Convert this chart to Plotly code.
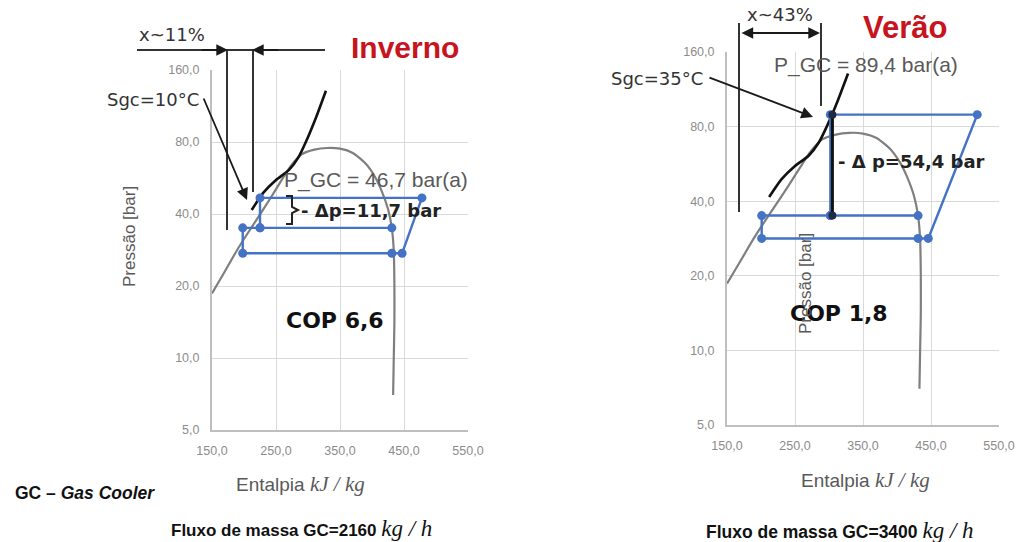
import plotly.graph_objects as go

W, H = 1026, 542

# ---------------- data ----------------
# saturation dome (same on both diagrams)
dome_h = [150, 170, 190, 205, 220, 240, 258, 272, 290, 310, 330, 350, 370, 390, 405, 415, 425, 431, 434, 435, 435, 434, 433]
dome_p = [18.6, 23, 28.5, 33, 38, 46, 55, 63, 71, 74.3, 75.5, 75, 72, 65, 57, 50, 42, 35, 28, 20, 14, 10, 7.0]

# gas-cooler outlet line (black)
gc_h = [212, 230, 250, 270, 285, 298, 313, 328]
gc_p = [41.6, 49, 55.5, 61, 69, 81.5, 102, 131]

# winter cycle (Inverno)
win_h = [431, 225, 198, 198, 431, 447, 478, 225, 225]
win_p = [35.0, 35.0, 35.0, 27.4, 27.4, 27.4, 46.7, 46.7, 35.0]

# summer cycle (Verão)
sum_h = [431, 302, 201, 201, 431, 446, 518, 302, 302]
sum_p = [35.0, 35.0, 35.0, 28.3, 28.3, 28.3, 89.4, 89.4, 35.0]
sum_dp_h = [305, 305]
sum_dp_p = [35.0, 89.4]

x_ticks = [150, 250, 350, 450, 550]
x_ticktext = ["150,0", "250,0", "350,0", "450,0", "550,0"]
y_ticks = [5, 10, 20, 40, 80, 160]
y_ticktext = ["5,0", "10,0", "20,0", "40,0", "80,0", "160,0"]

BLUE = "#4472C4"
GRAY = "#7f7f7f"
RED = "#C8141E"


def px(x):
    return x / W


def py(y):
    return 1 - y / H


fig = go.Figure()

for xa, ya, cyc_h, cyc_p in [("x", "y", win_h, win_p), ("x2", "y2", sum_h, sum_p)]:
    fig.add_trace(go.Scatter(x=dome_h, y=dome_p, mode="lines", line=dict(color=GRAY, width=2.2, shape="spline", smoothing=0.6),
                             xaxis=xa, yaxis=ya, showlegend=False, hoverinfo="skip"))
    fig.add_trace(go.Scatter(x=gc_h, y=gc_p, mode="lines", line=dict(color="#111111", width=2.6, shape="spline", smoothing=0.6),
                             xaxis=xa, yaxis=ya, showlegend=False, hoverinfo="skip"))
    fig.add_trace(go.Scatter(x=cyc_h, y=cyc_p, mode="lines+markers", line=dict(color=BLUE, width=2.4),
                             marker=dict(color=BLUE, size=9), xaxis=xa, yaxis=ya, showlegend=False))

fig.add_trace(go.Scatter(x=sum_dp_h, y=sum_dp_p, mode="lines+markers", line=dict(color="#111111", width=3),
                         marker=dict(color="#1f2a44", size=8), xaxis="x2", yaxis="y2", showlegend=False))

axis_common = dict(showgrid=True, gridcolor="#d9d9d9", gridwidth=1.2, showline=True, linecolor="#bfbfbf", linewidth=2,
                   zeroline=False, tickfont=dict(family="Liberation Sans", size=12.5, color="#8c8c8c"), ticks="",
                   ticklabelstandoff=8, automargin=False)

fig.update_layout(
    width=W, height=H, autosize=False,
    margin=dict(l=0, r=0, t=0, b=0, pad=0, autoexpand=False),
    paper_bgcolor="white", plot_bgcolor="white",
    xaxis=dict(domain=[px(212), px(468)], range=[150, 550], tickvals=x_ticks, ticktext=x_ticktext, anchor="y", **axis_common),
    yaxis=dict(domain=[py(430), py(70)], type="log", range=[0.69897, 2.20412], tickvals=y_ticks, ticktext=y_ticktext,
               anchor="x", **axis_common),
    xaxis2=dict(domain=[px(727), px(999)], range=[150, 550], tickvals=x_ticks, ticktext=x_ticktext, anchor="y2", **axis_common),
    yaxis2=dict(domain=[py(425), py(52)], type="log", range=[0.69897, 2.20412], tickvals=y_ticks, ticktext=y_ticktext,
                anchor="x2", **axis_common),
)

ann = []
shapes = []


def text(x, y, s, size, color="#333333", family="Liberation Sans", xanchor="center", angle=0):
    ann.append(dict(x=px(x), y=py(y), xref="paper", yref="paper", text=s, showarrow=False, xanchor=xanchor,
                    yanchor="middle", textangle=angle, font=dict(family=family, size=size, color=color)))


def arrow(x0, y0, x1, y1, side="end", width=1.8):
    ann.append(dict(x=px(x1), y=py(y1), xref="paper", yref="paper", ax=x0 - x1, ay=y0 - y1, text="",
                    showarrow=True, arrowhead=2, arrowsize=1.3, arrowwidth=width, arrowcolor="#1a1a1a", arrowside=side))


def line(x0, y0, x1, y1, w=2, c="#333333"):
    shapes.append(dict(type="line", xref="paper", yref="paper", x0=px(x0), y0=py(y0), x1=px(x1), y1=py(y1),
                       line=dict(color=c, width=w)))


MATH = "<span style='font-family:Liberation Serif;font-size:21px'><i>kJ / kg</i></span>"
MATH2 = "<span style='font-family:Liberation Serif;font-size:23px'><i>kg / h</i></span>"

# ---------- left (Inverno) ----------
text(405, 47, "<b>Inverno</b>", 30, RED)
text(172, 34, "x~11%", 18, "#333333", "DejaVu Sans")
line(137, 50, 325, 50, 2, "#333333")
arrow(200, 50, 228, 50)
arrow(280, 50, 252, 50)
line(227, 50, 227, 230, 2, "#333333")
line(253, 50, 253, 192, 2, "#333333")
text(153, 100, "Sgc=10°C", 18, "#333333", "DejaVu Sans")
arrow(203, 97, 247, 200)
text(376, 180, "P_GC = 46,7 bar(a)", 21, "#595959")
shapes.append(dict(type="path", xref="paper", yref="paper",
                   path="M {a},{b} L {c},{b} L {c},{d} L {e},{f} L {c},{g} L {c},{h} L {a},{h}".format(
                       a=px(286), b=py(196), c=px(292), d=py(207), e=px(298), f=py(210), g=py(213), h=py(224)),
                   line=dict(color="#222222", width=2)))
text(299, 211, "<b>- Δp=11,7 bar</b>", 18, "#222222", "DejaVu Sans", xanchor="left")
text(335, 320, "<b>COP 6,6</b>", 22, "#111111", "DejaVu Sans")
text(130, 237, "Pressão [bar]", 17, "#595959", angle=-90)
text(300, 484, "Entalpia " + MATH, 19, "#595959")
text(13, 493, "<b>GC – <i>Gas Cooler</i></b>", 17.5, "#111111", xanchor="left")
text(301, 528, "<b>Fluxo de massa GC=2160 </b>" + MATH2, 17, "#111111")

# ---------- right (Verão) ----------
text(905, 28, "<b>Verão</b>", 31, RED)
text(780, 15, "x~43%", 18, "#333333", "DejaVu Sans")
arrow(740, 33, 820, 33, side="end+start")
line(739, 23, 739, 212, 2, "#333333")
line(821, 23, 821, 106, 2, "#333333")
text(657, 78, "Sgc=35°C", 18, "#333333", "DejaVu Sans")
arrow(708, 77, 813, 117)
text(866, 65, "P_GC = 89,4 bar(a)", 21, "#595959")
text(836, 162, "<b>- Δ p=54,4 bar</b>", 18, "#222222", "DejaVu Sans", xanchor="left")
text(839, 313, "<b>COP 1,8</b>", 22, "#111111", "DejaVu Sans")
text(805, 284, "Pressão [bar]", 17, "#595959", angle=-90)
text(865, 480, "Entalpia " + MATH, 19, "#595959")
text(840, 530, "<b>Fluxo de massa GC=3400 </b>" + MATH2, 17.5, "#111111")

fig.update_layout(annotations=ann, shapes=shapes)
fig.write_html("out.html")
